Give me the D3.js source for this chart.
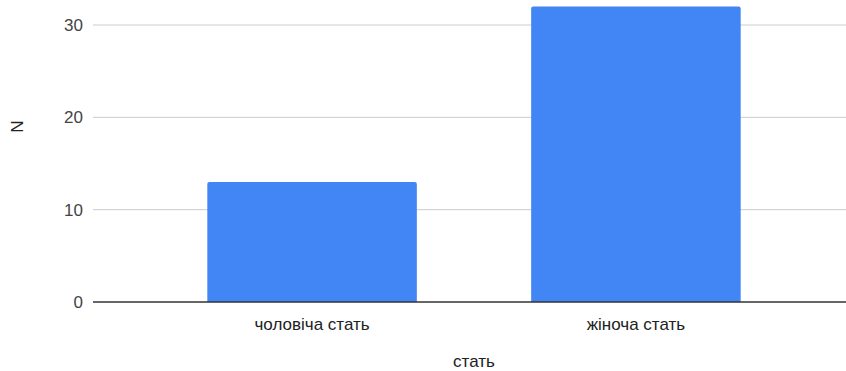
<!DOCTYPE html>
<html>
<head>
<meta charset="utf-8">
<script src="https://cdn.jsdelivr.net/npm/d3@7"></script>
<style>
  html, body { margin: 0; padding: 0; background: #fff; }
  svg { display: block; font-family: Arial, "Liberation Sans", sans-serif; }
</style>
</head>
<body>
<svg id="chart" width="846" height="371"></svg>
<script>
// Respondents by sex
const categories = ["чоловіча стать", "жіноча стать"];
const counts = [13, 32];
const yTicks = [0, 10, 20, 30];
const xTitle = "стать";
const yTitle = "N";

const font = 'Arial, "Liberation Sans", sans-serif';
const svg = d3.select("#chart");
const plotLeft = 93, plotRight = 855, plotTop = 25, plotBottom = 302;

const x = d3.scaleBand().domain(categories).range([plotLeft, plotRight]).padding(0.353);
const y = d3.scaleLinear().domain([0, 30]).range([plotBottom, plotTop]);

// horizontal gridlines
svg.append("g").selectAll("line")
  .data(yTicks.filter(d => d !== 0))
  .join("line")
  .attr("x1", plotLeft).attr("x2", plotRight)
  .attr("y1", d => y(d)).attr("y2", d => y(d))
  .attr("stroke", "#cccccc").attr("stroke-width", 1);

// y tick labels
const yAxis = d3.axisLeft(y).tickValues(yTicks).tickSize(0).tickPadding(10);
const gy = svg.append("g").attr("transform", `translate(${plotLeft},0)`).call(yAxis);
gy.select(".domain").remove();
gy.selectAll("text").attr("font-size", 17).attr("fill", "#444").attr("font-family", font);

// bars with slightly rounded top corners
const r = 2;
svg.append("g").selectAll("path")
  .data(categories.map((c, i) => ({ c, v: counts[i] })))
  .join("path")
  .attr("fill", "#4285f4")
  .attr("d", d => {
    const x0 = x(d.c), w = x.bandwidth(), y0 = y(d.v), y1 = y(0);
    return `M${x0},${y1}V${y0 + r}Q${x0},${y0} ${x0 + r},${y0}H${x0 + w - r}Q${x0 + w},${y0} ${x0 + w},${y0 + r}V${y1}Z`;
  });

// baseline
svg.append("line")
  .attr("x1", plotLeft).attr("x2", plotRight)
  .attr("y1", y(0)).attr("y2", y(0))
  .attr("stroke", "#333").attr("stroke-width", 1.3);

// x category labels
const xAxis = d3.axisBottom(x).tickSize(0).tickPadding(0);
const gx = svg.append("g").attr("transform", `translate(0,${y(0)})`).call(xAxis);
gx.select(".domain").remove();
gx.selectAll("text").attr("font-size", 17).attr("fill", "#222")
  .attr("font-family", font)
  .attr("dy", null).attr("y", 28);

// axis titles
svg.append("text")
  .attr("x", (plotLeft + plotRight) / 2).attr("y", 367)
  .attr("text-anchor", "middle").attr("font-size", 17).attr("fill", "#222")
  .attr("font-family", font)
  .text(xTitle);

svg.append("text")
  .attr("transform", `translate(23,${(plotTop + plotBottom) / 2 - 37}) rotate(-90)`)
  .attr("text-anchor", "middle").attr("font-size", 17).attr("fill", "#222")
  .attr("font-family", font)
  .text(yTitle);
</script>
</body>
</html>
